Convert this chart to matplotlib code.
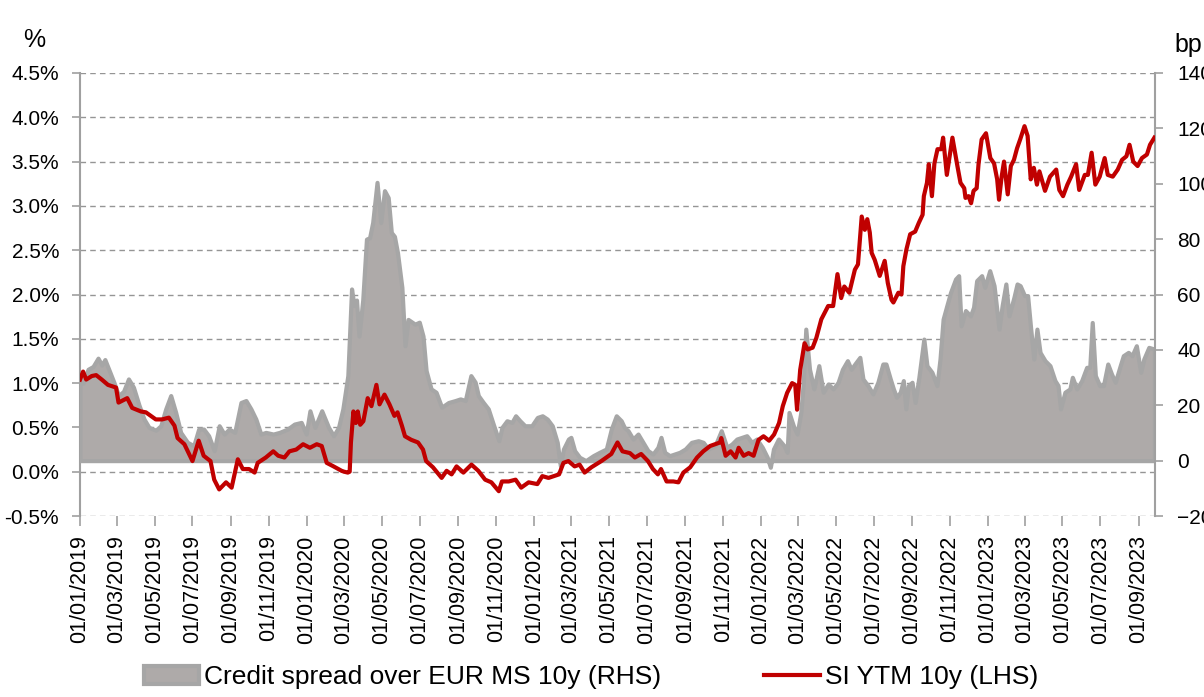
import pandas as pd
import matplotlib.pyplot as plt
import matplotlib.dates as mdates
from matplotlib.ticker import MultipleLocator, FuncFormatter

plt.rcParams['font.family'] = ['Liberation Sans', 'DejaVu Sans']

# ---- data ----
# SI YTM 10y, % (left axis)
ytm_dates = [
    '2019-01-01', '2019-01-06', '2019-01-11', '2019-01-20', '2019-01-27', '2019-02-05', '2019-02-15',
    '2019-02-28', '2019-03-04', '2019-03-18', '2019-03-26', '2019-04-09', '2019-04-17', '2019-04-25',
    '2019-05-03', '2019-05-13', '2019-05-24', '2019-06-02', '2019-06-07', '2019-06-18', '2019-07-01',
    '2019-07-11', '2019-07-19', '2019-07-30', '2019-08-05', '2019-08-13', '2019-08-24', '2019-09-02',
    '2019-09-12', '2019-09-20', '2019-09-30', '2019-10-09', '2019-10-14', '2019-10-27', '2019-11-08',
    '2019-11-16', '2019-11-26', '2019-12-04', '2019-12-15', '2019-12-26', '2020-01-06', '2020-01-17',
    '2020-01-25', '2020-02-02', '2020-02-13', '2020-02-26', '2020-03-01', '2020-03-07', '2020-03-10',
    '2020-03-12', '2020-03-16', '2020-03-20', '2020-03-23', '2020-03-27', '2020-04-01', '2020-04-08',
    '2020-04-14', '2020-04-22', '2020-04-27', '2020-05-05', '2020-05-13', '2020-05-21', '2020-05-26',
    '2020-06-02', '2020-06-07', '2020-06-17', '2020-06-28', '2020-07-06', '2020-07-11', '2020-07-22',
    '2020-08-05', '2020-08-13', '2020-08-21', '2020-08-29', '2020-09-09', '2020-09-22', '2020-10-03',
    '2020-10-14', '2020-10-24', '2020-11-05', '2020-11-10', '2020-11-21', '2020-12-02', '2020-12-11',
    '2020-12-23', '2021-01-06', '2021-01-14', '2021-01-24', '2021-02-10', '2021-02-17', '2021-02-25',
    '2021-03-07', '2021-03-15', '2021-03-23', '2021-04-03', '2021-04-19', '2021-05-05', '2021-05-15',
    '2021-05-23', '2021-06-04', '2021-06-12', '2021-06-22', '2021-07-03', '2021-07-11', '2021-07-19',
    '2021-07-24', '2021-08-02', '2021-08-13', '2021-08-21', '2021-08-29', '2021-09-09', '2021-09-20',
    '2021-09-30', '2021-10-11', '2021-10-19', '2021-10-27', '2021-10-29', '2021-11-05', '2021-11-13',
    '2021-11-21', '2021-11-26', '2021-12-04', '2021-12-12', '2021-12-20', '2021-12-28', '2022-01-05',
    '2022-01-14', '2022-01-22', '2022-01-30', '2022-02-05', '2022-02-12', '2022-02-20', '2022-02-25',
    '2022-02-28', '2022-03-05', '2022-03-12', '2022-03-17', '2022-03-25', '2022-03-31', '2022-04-08',
    '2022-04-19', '2022-04-27', '2022-05-04', '2022-05-10', '2022-05-15', '2022-05-23', '2022-06-01',
    '2022-06-06', '2022-06-12', '2022-06-17', '2022-06-21', '2022-06-25', '2022-06-28', '2022-07-03',
    '2022-07-11', '2022-07-19', '2022-07-24', '2022-07-30', '2022-08-02', '2022-08-10', '2022-08-15',
    '2022-08-18', '2022-08-23', '2022-08-29', '2022-09-06', '2022-09-12', '2022-09-18', '2022-09-20',
    '2022-09-25', '2022-09-28', '2022-10-03', '2022-10-07', '2022-10-12', '2022-10-18', '2022-10-21',
    '2022-10-27', '2022-11-05', '2022-11-13', '2022-11-18', '2022-11-24', '2022-11-26', '2022-12-01',
    '2022-12-05', '2022-12-09', '2022-12-14', '2022-12-17', '2022-12-22', '2022-12-29', '2023-01-05',
    '2023-01-11', '2023-01-16', '2023-01-19', '2023-01-23', '2023-01-27', '2023-02-02', '2023-02-07',
    '2023-02-12', '2023-02-17', '2023-02-22', '2023-03-01', '2023-03-06', '2023-03-11', '2023-03-16',
    '2023-03-21', '2023-03-25', '2023-04-03', '2023-04-11', '2023-04-21', '2023-04-26', '2023-05-02',
    '2023-05-09', '2023-05-15', '2023-05-23', '2023-05-28', '2023-06-06', '2023-06-11', '2023-06-17',
    '2023-06-23', '2023-06-30', '2023-07-08', '2023-07-13', '2023-07-21', '2023-07-29', '2023-08-05',
    '2023-08-12', '2023-08-17', '2023-08-23', '2023-08-30', '2023-09-06', '2023-09-14', '2023-09-19',
    '2023-09-26',
]
ytm = [
    1.04, 1.13, 1.04, 1.08, 1.09, 1.04, 0.98,
    0.95, 0.78, 0.83, 0.72, 0.68, 0.67, 0.63,
    0.59, 0.59, 0.61, 0.52, 0.38, 0.31, 0.12,
    0.35, 0.18, 0.12, -0.09, -0.20, -0.12, -0.18,
    0.14, 0.03, 0.03, -0.01, 0.10, 0.16, 0.23,
    0.18, 0.16, 0.23, 0.25, 0.31, 0.27, 0.31,
    0.29, 0.10, 0.06, 0.01, 0.00, -0.01, 0.00,
    0.33, 0.68, 0.55, 0.68, 0.53, 0.57, 0.83,
    0.74, 0.98, 0.76, 0.87, 0.76, 0.63, 0.67,
    0.52, 0.40, 0.36, 0.33, 0.25, 0.12, 0.05,
    -0.07, 0.01, -0.03, 0.06, -0.01, 0.08, 0.01,
    -0.09, -0.12, -0.22, -0.11, -0.11, -0.09, -0.18,
    -0.12, -0.14, -0.05, -0.07, -0.03, 0.10, 0.12,
    0.06, 0.08, -0.01, 0.05, 0.12, 0.20, 0.33,
    0.23, 0.21, 0.16, 0.20, 0.12, 0.03, -0.03,
    0.03, -0.11, -0.11, -0.12, -0.01, 0.05, 0.16,
    0.23, 0.29, 0.31, 0.33, 0.38, 0.18, 0.23,
    0.16, 0.27, 0.18, 0.21, 0.18, 0.36, 0.40,
    0.35, 0.42, 0.55, 0.74, 0.89, 1.00, 0.98,
    0.70, 1.15, 1.45, 1.38, 1.40, 1.51, 1.72,
    1.87, 1.87, 2.23, 1.96, 2.09, 2.02, 2.28,
    2.34, 2.88, 2.73, 2.85, 2.70, 2.47, 2.39,
    2.21, 2.38, 2.13, 1.94, 1.91, 2.02, 2.00,
    2.32, 2.51, 2.68, 2.71, 2.81, 2.90, 3.11,
    3.26, 3.47, 3.11, 3.48, 3.64, 3.64, 3.77,
    3.35, 3.77, 3.45, 3.26, 3.20, 3.09, 3.11,
    3.03, 3.17, 3.20, 3.47, 3.75, 3.82, 3.54,
    3.48, 3.30, 3.07, 3.32, 3.50, 3.13, 3.45,
    3.52, 3.65, 3.75, 3.90, 3.79, 3.30, 3.43,
    3.24, 3.39, 3.17, 3.33, 3.41, 3.18, 3.11,
    3.24, 3.33, 3.47, 3.18, 3.35, 3.35, 3.60,
    3.24, 3.33, 3.54, 3.35, 3.33, 3.41, 3.52,
    3.56, 3.69, 3.50, 3.45, 3.54, 3.58, 3.69,
    3.77,
]

# Credit spread over EUR MS 10y, bp (right axis)
spread_dates = [
    '2019-01-01', '2019-01-06', '2019-01-14', '2019-01-22', '2019-01-30', '2019-02-05', '2019-02-10',
    '2019-02-18', '2019-02-25', '2019-03-04', '2019-03-12', '2019-03-20', '2019-03-28', '2019-04-06',
    '2019-04-14', '2019-04-22', '2019-05-03', '2019-05-11', '2019-05-19', '2019-05-27', '2019-06-04',
    '2019-06-12', '2019-06-23', '2019-07-03', '2019-07-11', '2019-07-19', '2019-07-27', '2019-08-05',
    '2019-08-13', '2019-08-21', '2019-08-29', '2019-09-07', '2019-09-17', '2019-09-25', '2019-10-03',
    '2019-10-11', '2019-10-19', '2019-10-27', '2019-11-08', '2019-11-18', '2019-12-01', '2019-12-12',
    '2019-12-23', '2019-12-31', '2020-01-06', '2020-01-14', '2020-01-25', '2020-02-05', '2020-02-13',
    '2020-02-21', '2020-02-28', '2020-03-07', '2020-03-13', '2020-03-17', '2020-03-21', '2020-03-25',
    '2020-03-31', '2020-04-06', '2020-04-11', '2020-04-16', '2020-04-23', '2020-04-29', '2020-05-05',
    '2020-05-11', '2020-05-16', '2020-05-21', '2020-05-26', '2020-06-02', '2020-06-07', '2020-06-12',
    '2020-06-23', '2020-06-30', '2020-07-06', '2020-07-11', '2020-07-19', '2020-07-27', '2020-08-05',
    '2020-08-16', '2020-08-27', '2020-09-04', '2020-09-12', '2020-09-21', '2020-09-28', '2020-10-03',
    '2020-10-11', '2020-10-19', '2020-10-27', '2020-11-05', '2020-11-10', '2020-11-18', '2020-11-26',
    '2020-12-02', '2020-12-09', '2020-12-17', '2020-12-28', '2021-01-06', '2021-01-14', '2021-01-22',
    '2021-01-30', '2021-02-07', '2021-02-12', '2021-02-17', '2021-02-25', '2021-03-01', '2021-03-07',
    '2021-03-15', '2021-03-25', '2021-04-06', '2021-04-16', '2021-04-27', '2021-05-05', '2021-05-13',
    '2021-05-21', '2021-05-26', '2021-06-01', '2021-06-09', '2021-06-17', '2021-06-25', '2021-07-03',
    '2021-07-11', '2021-07-19', '2021-07-24', '2021-07-30', '2021-08-07', '2021-08-15', '2021-08-23',
    '2021-09-01', '2021-09-11', '2021-09-22', '2021-09-30', '2021-10-08', '2021-10-19', '2021-10-29',
    '2021-11-07', '2021-11-15', '2021-11-23', '2021-12-01', '2021-12-09', '2021-12-17', '2021-12-25',
    '2022-01-03', '2022-01-11', '2022-01-16', '2022-01-21', '2022-01-29', '2022-02-07', '2022-02-12',
    '2022-02-15', '2022-02-22', '2022-02-28', '2022-03-06', '2022-03-10', '2022-03-14', '2022-03-20',
    '2022-03-27', '2022-04-04', '2022-04-11', '2022-04-19', '2022-04-27', '2022-05-05', '2022-05-12',
    '2022-05-20', '2022-05-26', '2022-06-01', '2022-06-09', '2022-06-14', '2022-06-22', '2022-06-30',
    '2022-07-08', '2022-07-16', '2022-07-21', '2022-07-28', '2022-08-02', '2022-08-07', '2022-08-13',
    '2022-08-18', '2022-08-22', '2022-08-26', '2022-09-01', '2022-09-06', '2022-09-12', '2022-09-20',
    '2022-09-25', '2022-10-03', '2022-10-11', '2022-10-16', '2022-10-21', '2022-10-27', '2022-11-02',
    '2022-11-10', '2022-11-15', '2022-11-19', '2022-11-26', '2022-12-04', '2022-12-09', '2022-12-14',
    '2022-12-22', '2022-12-27', '2023-01-04', '2023-01-11', '2023-01-19', '2023-01-24', '2023-01-30',
    '2023-02-04', '2023-02-12', '2023-02-17', '2023-02-22', '2023-03-01', '2023-03-06', '2023-03-11',
    '2023-03-16', '2023-03-21', '2023-03-26', '2023-04-03', '2023-04-11', '2023-04-19', '2023-04-24',
    '2023-04-28', '2023-05-05', '2023-05-13', '2023-05-17', '2023-05-24', '2023-06-01', '2023-06-09',
    '2023-06-14', '2023-06-18', '2023-06-23', '2023-06-30', '2023-07-06', '2023-07-13', '2023-07-19',
    '2023-07-25', '2023-08-02', '2023-08-07', '2023-08-15', '2023-08-21', '2023-08-28', '2023-09-04',
    '2023-09-09', '2023-09-17', '2023-09-26',
]
spread = [
    30, 28, 33, 34, 37, 34.5, 36.5,
    32, 28, 23.5, 25, 29.5, 26.5, 20,
    15, 12, 11, 12.6, 18.7, 23.5, 17.4,
    10.2, 6.6, 5.4, 11.4, 11.4, 9, 3.6,
    12.6, 9.6, 11.4, 10.2, 21, 21.7, 18.7,
    15, 9.6, 10.2, 9.6, 10.2, 11.4, 13.2,
    13.8, 9.6, 18, 12, 18, 12, 9,
    12, 18.7, 30.7, 62, 56, 58, 45,
    58, 80, 80.5, 86, 100.5, 86, 97.5,
    95, 82.4, 81, 75, 62.6, 41.5, 51,
    49.3, 50, 45, 32.5, 25.9, 24.7, 19.3,
    21, 21.7, 22.3, 21.7, 30.7, 28.3, 23.5,
    21, 18.7, 13.2, 7.2, 12, 14.4, 13.8,
    16.2, 14.4, 12.6, 12.6, 15.6, 16.2, 15,
    12.6, 6.6, -1.8, 4.2, 7.8, 8.4, 3.6,
    1.2, 0, 1.8, 3, 4.2, 11.4, 16.2,
    14.4, 12, 10.8, 7.8, 9.6, 6.6, 3.6,
    2.4, 4.8, 8.4, 3, 1.8, 2.4, 3,
    4.2, 6.6, 7.2, 6.6, 4.2, 5.4, 10.8,
    4.8, 6, 7.8, 8.4, 9, 6.6, 7.8,
    4.8, 1.2, -2.4, 4.2, 7.8, 5.4, 3,
    17.4, 12.6, 9.6, 17.4, 28.3, 47.5, 33,
    25.9, 34.3, 24.7, 27.7, 25.9, 28.3, 33,
    36.1, 33, 34.9, 37.3, 29.5, 27.1, 24.1,
    28.3, 34.9, 34.9, 29.5, 25.9, 22.9, 24.7,
    28.9, 18.7, 27.1, 28.3, 21, 30.1, 43.9,
    34.3, 31.9, 27.1, 36.7, 51.1, 56, 60.8,
    65.6, 66.8, 48.7, 54.2, 52.3, 55.4, 65,
    66.8, 62.6, 68.6, 63.2, 47.5, 56, 63.8,
    52.3, 59, 63.8, 63.2, 59.6, 59.6, 47.5,
    36.7, 47.5, 39.1, 36.1, 34.3, 28.9, 27.1,
    18.7, 24.7, 25.9, 30.1, 25.9, 28.9, 33.7,
    33.7, 49.9, 30.7, 27.1, 27.1, 34.9, 31.3,
    28.3, 34.3, 37.9, 39.1, 37.9, 41.5, 31.9,
    36.7, 40.9, 40.3,
]

spread_label = 'Credit spread over EUR MS 10y (RHS)'
ytm_label = 'SI YTM 10y (LHS)'

ytm_x = pd.to_datetime(ytm_dates)
spread_x = pd.to_datetime(spread_dates)

# ---- figure ----
W, H = 1204, 697
fig = plt.figure(figsize=(W / 100, H / 100), dpi=100)
rect = [80 / W, 1 - 516 / H, (1155 - 80) / W, (516 - 73) / H]

grid_col = '#959595'
spine_col = '#A0A0A0'

# left axis: % scale, gridlines
ax = fig.add_axes(rect)
ax.set_ylim(-0.5, 4.5)
ax.yaxis.set_major_locator(MultipleLocator(0.5))
ax.yaxis.set_major_formatter(FuncFormatter(lambda v, p: f'{v:.1f}%'))
ax.grid(axis='y', color=grid_col, linestyle=(0, (4, 3)), linewidth=1)
ax.set_axisbelow(True)

ax.set_xlim(pd.Timestamp('2019-01-01'), pd.Timestamp('2023-09-27'))
ax.xaxis.set_major_locator(mdates.MonthLocator(bymonth=[1, 3, 5, 7, 9, 11]))
ax.xaxis.set_major_formatter(mdates.DateFormatter('%d/%m/%Y'))

for s in ['top', 'right', 'bottom']:
    ax.spines[s].set_visible(False)
ax.spines['left'].set_color(spine_col)
ax.spines['left'].set_linewidth(1.5)
ax.tick_params(axis='y', length=6, width=1.2, color=spine_col, pad=9, labelsize=15)
ax.tick_params(axis='x', length=7, width=1.2, color=spine_col, pad=7, labelsize=15.5,
               labelrotation=90)

# right axis: bp scale, credit spread area
ax2 = ax.twinx()
ax2.set_ylim(-20, 140)
ax2.yaxis.set_major_locator(MultipleLocator(20))
for s in ['top', 'left', 'bottom']:
    ax2.spines[s].set_visible(False)
ax2.spines['right'].set_color(spine_col)
ax2.spines['right'].set_linewidth(1.5)
ax2.tick_params(axis='y', length=6, width=1.2, color=spine_col, pad=10, labelsize=15)

area = ax2.fill_between(spread_x, 0, spread, facecolor='#AEAAA9', edgecolor='#A6A6A6',
                        linewidth=3, label=spread_label)

# overlay axes sharing the left scale so the red line sits on top of the area
ax3 = fig.add_axes(rect, sharex=ax, sharey=ax)
ax3.axis('off')
ax3.patch.set_visible(False)
line, = ax3.plot(ytm_x, ytm, color='#C00000', linewidth=3, label=ytm_label)

# axis unit labels
fig.text(23 / W, 1 - 40 / H, '%', fontsize=18, va='center', ha='left')
fig.text(1174 / W, 1 - 45 / H, 'bp', fontsize=18, va='center', ha='left')

fig.legend([area, line], [spread_label, ytm_label], loc='center',
           bbox_to_anchor=(591 / W, 1 - 677 / H), ncol=2, frameon=False, fontsize=19,
           handlelength=2.1, handletextpad=0.2, columnspacing=3.9, borderaxespad=0)

fig.savefig('out.png', dpi=100)
